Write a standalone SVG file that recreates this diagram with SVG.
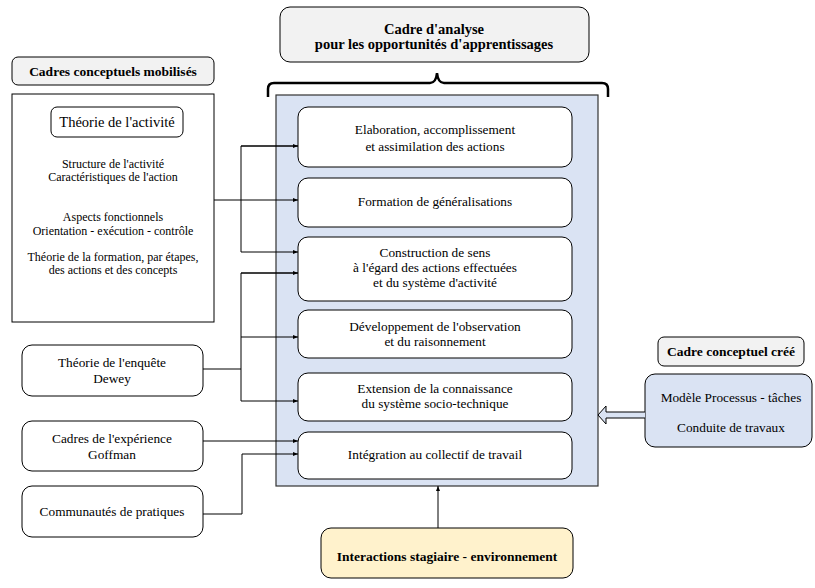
<svg xmlns="http://www.w3.org/2000/svg" width="815" height="588" viewBox="0 0 815 588">
<style>
text{font-family:"Liberation Serif","Times New Roman",serif;font-size:13.3px;fill:#000;text-anchor:middle}
.b{font-weight:bold;font-size:13.5px}
.t{font-weight:bold;font-size:14.5px}
.s{font-size:12px}
.l{font-size:14.5px}
.gray{fill:#F2F2F2;stroke:#000;stroke-width:1}
.white{fill:#fff;stroke:#000;stroke-width:1}
.blue{fill:#DAE3F3;stroke:#333;stroke-width:1.2}
.yel{fill:#FFF2CC;stroke:#000;stroke-width:1}
.c{fill:none;stroke:#000;stroke-width:1}
</style>
<defs>
<marker id="ah" viewBox="0 0 10 10" refX="10" refY="5" markerWidth="5" markerHeight="5" orient="auto" markerUnits="userSpaceOnUse">
<path d="M0,1 L10,5 L0,9 z" fill="#000"/>
</marker>
</defs>

<g id="titre-analyse">
<rect class="gray" x="280" y="7" width="309" height="55" rx="10"/>
<text class="t" x="434" y="34">Cadre d'analyse</text>
<text class="t" x="434" y="49">pour les opportunités d'apprentissages</text>
</g>
<path id="accolade" d="M268,97 V89 Q268,83 274,83 H430 Q436,83 437,73 Q438,83 444,83 H602 Q608,83 608,89 V97" fill="none" stroke="#000" stroke-width="2.5"/>

<g id="cadre-analyse">
<rect class="blue" x="276" y="95" width="322" height="391"/>
</g>
<g id="n1"><rect class="white" x="298" y="107" width="274" height="60" rx="10"/>
<text x="435" y="134">Elaboration, accomplissement</text><text x="435" y="151">et assimilation des actions</text></g>
<g id="n2"><rect class="white" x="298" y="178" width="274" height="49" rx="10"/>
<text x="435" y="206">Formation de généralisations</text></g>
<g id="n3"><rect class="white" x="298" y="237" width="274" height="64" rx="10"/>
<text x="435" y="257">Construction de sens</text><text x="435" y="272">à l'égard des actions effectuées</text><text x="435" y="287">et du système d'activité</text></g>
<g id="n4"><rect class="white" x="298" y="310" width="274" height="48" rx="10"/>
<text x="435" y="331">Développement de l'observation</text><text x="435" y="346">et du raisonnement</text></g>
<g id="n5"><rect class="white" x="298" y="373" width="274" height="48" rx="10"/>
<text x="435" y="393">Extension de la connaissance</text><text x="435" y="408">du système socio-technique</text></g>
<g id="n6"><rect class="white" x="298" y="432" width="274" height="47" rx="10"/>
<text x="435" y="459">Intégration au collectif de travail</text></g>

<g id="titre-mobilises">
<rect class="gray" x="12" y="57" width="202" height="28" rx="6"/>
<text class="b" x="113" y="76">Cadres conceptuels mobilisés</text>
</g>
<g id="activite">
<rect class="white" x="12" y="94" width="202" height="228"/>
<rect class="white" x="51" y="107" width="132" height="30" rx="6"/>
<text class="l" x="117" y="127">Théorie de l'activité</text>
<text class="s" x="113" y="168">Structure de l'activité</text>
<text class="s" x="113" y="181">Caractéristiques de l'action</text>
<text class="s" x="113" y="221">Aspects fonctionnels</text>
<text class="s" x="113" y="235">Orientation - exécution - contrôle</text>
<text class="s" x="113" y="261">Théorie de la formation, par étapes,</text>
<text class="s" x="113" y="274">des actions et des concepts</text>
</g>
<g id="dewey"><rect class="white" x="22" y="345" width="181" height="51" rx="10"/>
<text x="112" y="367">Théorie de l'enquête</text><text x="112" y="383">Dewey</text></g>
<g id="goffman"><rect class="white" x="22" y="421" width="181" height="50" rx="10"/>
<text x="112" y="443">Cadres de l'expérience</text><text x="112" y="459">Goffman</text></g>
<g id="communautes"><rect class="white" x="22" y="486" width="181" height="51" rx="10"/>
<text x="112" y="516">Communautés de pratiques</text></g>

<g id="interactions"><rect class="yel" x="321" y="528" width="252" height="50" rx="10"/>
<text class="b" x="447" y="561">Interactions stagiaire - environnement</text></g>

<g id="titre-cree"><rect class="gray" x="658" y="337" width="146" height="29" rx="6"/>
<text class="b" x="731" y="356">Cadre conceptuel créé</text></g>
<g id="modele"><rect x="645" y="374" width="167" height="73" rx="10" fill="#DAE3F3" stroke="#000"/>
<text x="731" y="402">Modèle Processus - tâches</text><text x="731" y="432">Conduite de travaux</text></g>

<g id="connecteurs">
<path class="c" d="M214,200 H298" marker-end="url(#ah)"/>
<path class="c" d="M298,146 H241 V252 H298" marker-end="url(#ah)"/>
<path class="c" d="M241,146 H298" marker-end="url(#ah)"/>
<path class="c" d="M203,369 H241"/>
<path class="c" d="M298,273 H241 V401 H298" marker-end="url(#ah)"/>
<path class="c" d="M241,273 H298" marker-end="url(#ah)"/>
<path class="c" d="M241,337 H298" marker-end="url(#ah)"/>
<path class="c" d="M203,441 H298" marker-end="url(#ah)"/>
<path class="c" d="M203,514 H242 V454 H298" marker-end="url(#ah)"/>
<path class="c" d="M438,528 V486" marker-end="url(#ah)"/>
<path d="M645,412 H606 V406 L598,415 L606,424 V418 H645" fill="#DAE3F3" stroke="#000" stroke-width="1"/>
</g>
</svg>
